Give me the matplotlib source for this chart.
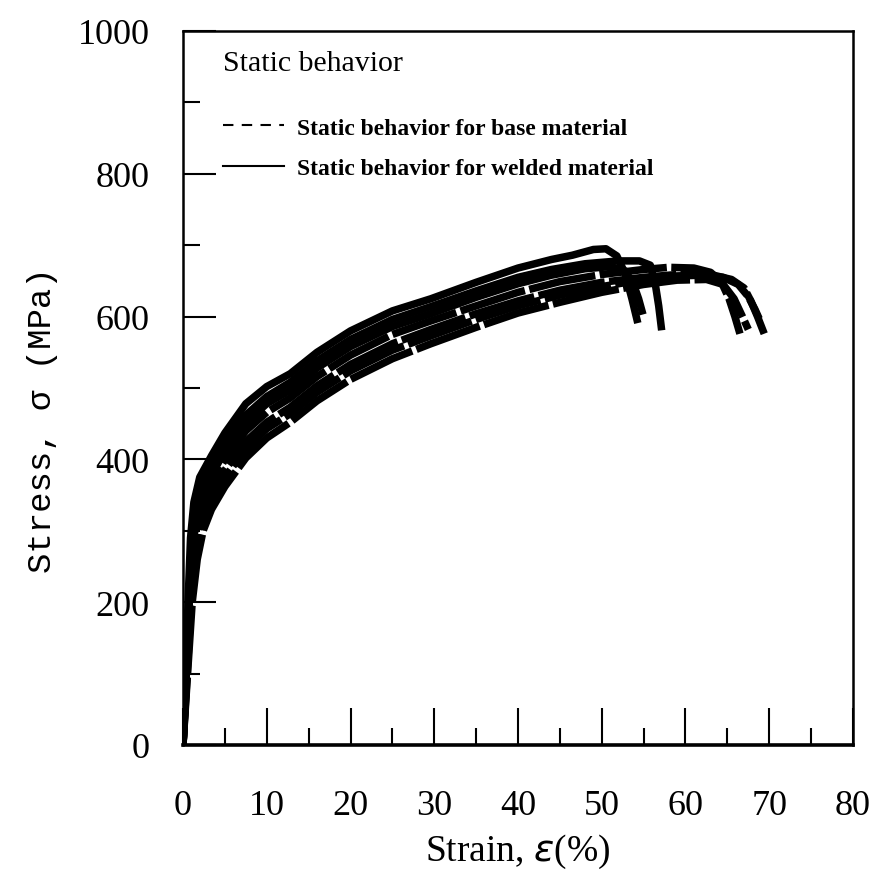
import matplotlib.pyplot as plt
from matplotlib.lines import Line2D
from matplotlib.ticker import MultipleLocator

# welded material curves (break earlier)
strain_a = [0, 0.3, 0.6, 0.9, 1.3, 2, 3.4, 5, 7.5, 10, 12.8, 16, 20, 25, 29.6, 35, 40, 44, 46.5, 49, 50.5, 51.8, 52.8, 53.6, 54.2]
stress_a = [0, 90, 200, 290, 340, 375, 405, 437, 478, 502, 520, 550, 580, 608, 625, 648, 668, 680, 686, 694, 695, 685, 660, 625, 596]

strain_b = [0, 0.3, 0.7, 1.0, 1.5, 2.2, 3.4, 5, 7.5, 10, 12.8, 16, 20, 25, 29.6, 35, 40, 44, 48, 52, 54.5, 55.8, 56.4, 56.8, 57.1]
stress_b = [0, 80, 190, 270, 320, 360, 392, 425, 462, 488, 508, 538, 568, 596, 614, 636, 655, 666, 674, 678, 678, 672, 645, 615, 586]

strain_f = [0, 0.4, 0.8, 1.2, 1.8, 2.6, 3.4, 5, 7.5, 10, 12.8, 16, 20, 25, 29.6, 35, 40, 44, 48, 51, 52.8, 53.8, 54.4, 54.8]
stress_f = [0, 100, 215, 285, 325, 358, 378, 412, 452, 478, 497, 528, 558, 586, 604, 627, 646, 658, 667, 670, 664, 645, 625, 608]

# base material curves
strain_c = [0, 0.4, 0.8, 1.2, 1.8, 2.6, 3.4, 5, 7.5, 10, 12.8, 16, 20, 25, 29.6, 35, 40, 45, 50, 55, 58, 61, 63, 64.3, 65.2, 65.9, 66.5]
stress_c = [0, 95, 200, 270, 315, 345, 368, 400, 440, 466, 486, 516, 546, 575, 594, 615, 634, 649, 659, 666, 669, 668, 662, 648, 625, 600, 576]

strain_d = [0, 0.5, 0.9, 1.4, 2, 2.8, 3.4, 5, 7.5, 10, 12.8, 16, 20, 25, 29.6, 35, 40, 45, 50, 55, 60, 63, 65.5, 67, 67.8, 68.6, 69.4]
stress_d = [0, 110, 210, 275, 310, 335, 350, 385, 425, 452, 473, 503, 533, 562, 582, 604, 622, 637, 648, 655, 660, 659, 652, 640, 622, 600, 576]

strain_e = [0, 0.5, 1.0, 1.5, 2.2, 3, 3.4, 5, 7.5, 10, 12.8, 16, 20, 25, 29.6, 35, 40, 45, 50, 55, 59, 62, 64.5, 66.3, 67.5, 68.3, 68.8]
stress_e = [0, 100, 205, 265, 305, 330, 342, 375, 415, 443, 464, 494, 524, 553, 573, 596, 615, 630, 642, 652, 657, 658, 655, 645, 628, 610, 597]

strain_g = [0, 0.6, 1.1, 1.7, 2.4, 3.4, 5, 7.5, 10, 12.8, 16, 20, 25, 29.6, 35, 40, 45, 50, 55, 59, 62.5, 64.5, 65.8, 66.8, 67.5]
stress_g = [0, 110, 200, 260, 300, 330, 362, 402, 430, 452, 482, 512, 541, 562, 585, 605, 620, 634, 645, 651, 652, 645, 625, 600, 582]

welded = [(strain_a, stress_a), (strain_b, stress_b), (strain_f, stress_f)]
base = [(strain_c, stress_c), (strain_d, stress_d), (strain_e, stress_e), (strain_g, stress_g)]

x_ticks = [0, 10, 20, 30, 40, 50, 60, 70, 80]
y_ticks = [0, 200, 400, 600, 800, 1000]

fig = plt.figure(figsize=(8.84, 8.79), dpi=100)
ax = fig.add_axes([183 / 884, 1 - 746 / 879, 670 / 884, 714 / 879])

for s, t in base:
    ax.plot(s, t, color='black', lw=5.4, linestyle=(0, (9, 0.6)), solid_capstyle='butt')
for s, t in welded:
    ax.plot(s, t, color='black', lw=5.4)

ax.set_xlim(0, 80)
ax.set_ylim(0, 1000)
ax.set_xticks(x_ticks)
ax.set_yticks(y_ticks)
ax.xaxis.set_minor_locator(MultipleLocator(5))
ax.yaxis.set_minor_locator(MultipleLocator(100))

tick_font = {'family': 'Liberation Serif', 'size': 26}
ax.set_xticklabels([str(v) for v in x_ticks], fontdict=tick_font)
ax.set_yticklabels([str(v) for v in y_ticks], fontdict=tick_font)

ax.tick_params(axis='x', which='major', direction='in', length=27, width=1.5, pad=32, top=False)
ax.tick_params(axis='x', which='minor', direction='in', length=12, width=1.5, top=False)
ax.tick_params(axis='y', which='major', direction='in', length=24, width=1.5, pad=24, right=False)
ax.tick_params(axis='y', which='minor', direction='in', length=12, width=1.5, right=False)

for side in ['left', 'right', 'top']:
    ax.spines[side].set_linewidth(1.8)
ax.spines['bottom'].set_linewidth(2.6)

ax.set_xlabel('Strain, $\\it{\\epsilon}$(%)', family='Liberation Serif', fontsize=27, va='center')
ax.xaxis.set_label_coords(0.5, (746 - 852) / 714)
ax.set_ylabel('Stress, σ (MPa)', family='Liberation Mono', fontsize=24.5, va='center')
ax.yaxis.set_label_coords((42 - 183) / 670, (746 - 420) / 714)

ax.text((223 - 183) / 670, (746 - 64) / 714, 'Static behavior', transform=ax.transAxes,
        family='Liberation Serif', fontsize=21.5, va='center', ha='left')

handles = [Line2D([], [], color='black', lw=1.5, linestyle=(0, (5, 4))),
           Line2D([], [], color='black', lw=1.5)]
labels = ['Static behavior for base material', 'Static behavior for welded material']
ax.legend(handles, labels, loc='upper left', bbox_to_anchor=((223 - 183) / 670, (746 - 118) / 714),
          frameon=False, borderpad=0, borderaxespad=0, handlelength=2.6, handletextpad=0.55,
          labelspacing=0.8, prop={'family': 'Liberation Serif', 'weight': 'bold', 'size': 17})

fig.savefig('out.png', dpi=100)
